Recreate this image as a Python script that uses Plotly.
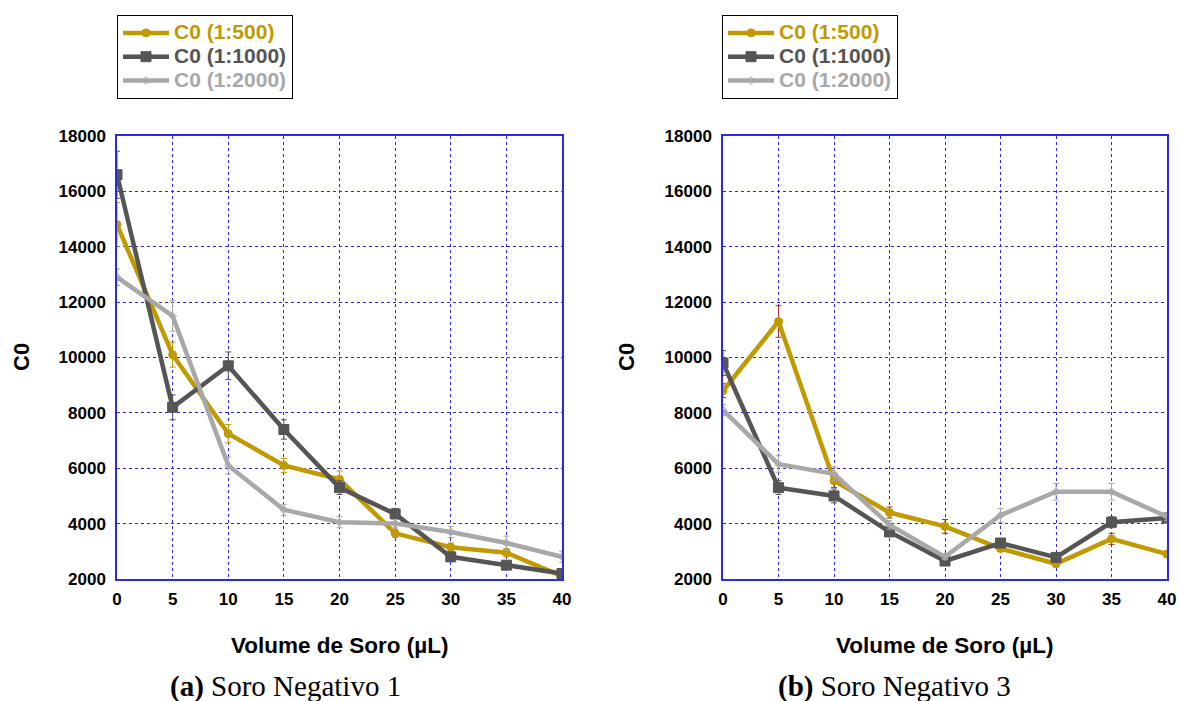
import plotly.graph_objects as go
from plotly.subplots import make_subplots

# ---------------- data ----------------
volume = [0, 5, 10, 15, 20, 25, 30, 35, 40]

# Soro Negativo 1 (left)
neg1_500 = [14800, 10100, 7250, 6100, 5600, 3650, 3150, 2950, 2100]
neg1_1000 = [16600, 8200, 9700, 7400, 5300, 4350, 2800, 2500, 2200]
neg1_2000 = [12900, 11500, 6100, 4500, 4050, 4000, 3700, 3300, 2800]
neg1_500_err = [800, 450, 330, 250, 300, 150, 150, 150, 100]
neg1_1000_err = [850, 450, 500, 350, 250, 200, 150, 100, 100]
neg1_2000_err = [300, 550, 300, 200, 200, 150, 200, 250, 200]

# Soro Negativo 3 (right)
neg3_500 = [8800, 11300, 5550, 4400, 3900, 3100, 2550, 3450, 2900]
neg3_1000 = [9800, 5300, 5000, 3700, 2650, 3300, 2780, 4050, 4200]
neg3_2000 = [8100, 6150, 5800, 3950, 2800, 4300, 5150, 5150, 4250]
neg3_500_err = [250, 570, 250, 200, 250, 100, 100, 200, 100]
neg3_1000_err = [450, 250, 250, 150, 100, 100, 100, 200, 150]
neg3_2000_err = [200, 300, 250, 150, 100, 250, 300, 300, 150]

series_names = ["C0 (1:500)", "C0 (1:1000)", "C0 (1:2000)"]
x_ticks = [0, 5, 10, 15, 20, 25, 30, 35, 40]
y_ticks = [2000, 4000, 6000, 8000, 10000, 12000, 14000, 16000, 18000]
x_title = "Volume de Soro (µL)"
y_title = "C0"
captions = ["<b>(a)</b> Soro Negativo 1", "<b>(b)</b> Soro Negativo 3"]

# ---------------- styles ----------------
W, H = 1179, 701
GOLD = "#C09A00"
DARK = "#555555"
LIGHT = "#A8A8A8"
colors = [GOLD, DARK, LIGHT]
symbols = ["circle", "square", "diamond-open"]
msizes = [8, 10, 6]
SANS = "Liberation Sans, Arial, sans-serif"
SERIF = "Liberation Serif, DejaVu Serif, serif"
BLUE = "#2a2ae6"

fig = make_subplots(rows=1, cols=2)

panels = [
    ([neg1_500, neg1_1000, neg1_2000], [neg1_500_err, neg1_1000_err, neg1_2000_err],
     [GOLD, DARK, LIGHT], "legend"),
    ([neg3_500, neg3_1000, neg3_2000], [neg3_500_err, neg3_1000_err, neg3_2000_err],
     ["#A03030", DARK, LIGHT], "legend2"),
]

for ci, (ys, errs, ecols, leg) in enumerate(panels):
    for si in range(3):
        fig.add_trace(
            go.Scatter(
                x=volume, y=ys[si],
                mode="lines+markers",
                name=(f'<span style="color:{colors[si]};font-size:21px">'
                      f'<b>{series_names[si]}</b></span>'),
                line=dict(color=colors[si], width=4.5),
                marker=dict(color=colors[si], symbol=symbols[si], size=msizes[si],
                            line=dict(color=colors[si], width=1)),
                error_y=dict(type="data", array=errs[si], visible=True,
                             color=ecols[si], thickness=1, width=3),
                legend=leg,
                showlegend=True,
            ),
            row=1, col=ci + 1,
        )

# domains (pixel-measured)
yd = [(H - 579) / H, (H - 136) / H]
fig.update_layout(
    xaxis=dict(domain=[117 / W, 562 / W]),
    xaxis2=dict(domain=[723 / W, 1167 / W]),
    yaxis=dict(domain=yd),
    yaxis2=dict(domain=yd),
)

axis_common = dict(
    showline=True, linecolor=BLUE, linewidth=1.5, mirror=True,
    showgrid=True, gridcolor=BLUE, griddash="dot", gridwidth=1,
    zeroline=False, ticks="", automargin=False,
    tickfont=dict(family=SANS, size=17, color="black", weight="bold"),
)
fig.update_xaxes(range=[0, 40], tickvals=x_ticks, tickformat="d", ticklabelstandoff=4, **axis_common)
fig.update_yaxes(range=[2000, 18000], tickvals=y_ticks, tickformat="d", ticklabelstandoff=6, **axis_common)

legend_common = dict(
    bgcolor="white", bordercolor="black", borderwidth=1,
    font=dict(family=SANS, size=16, color="black"),
    xanchor="left", yanchor="top", itemwidth=46, tracegroupgap=0,
    itemclick=False,
)
fig.update_layout(
    legend=dict(x=117 / W, y=1 - 15 / H, **legend_common),
    legend2=dict(x=722 / W, y=1 - 15 / H, **legend_common),
)

annotations = []
for cx in [(117 + 562) / 2, (723 + 1167) / 2]:
    annotations.append(dict(
        text=f"<b>{x_title}</b>", x=cx / W, y=1 - 645 / H, xref="paper", yref="paper",
        xanchor="center", yanchor="middle", showarrow=False,
        font=dict(family=SANS, size=22.5, color="black")))
for cx in [21, 626]:
    annotations.append(dict(
        text=f"<b>{y_title}</b>", x=cx / W, y=1 - 357 / H, xref="paper", yref="paper",
        xanchor="center", yanchor="middle", showarrow=False, textangle=-90,
        font=dict(family=SANS, size=22, color="black")))
for cx, cap in zip([285, 894], captions):
    annotations.append(dict(
        text=cap, x=cx / W, y=1 - 686 / H, xref="paper", yref="paper",
        xanchor="center", yanchor="middle", showarrow=False,
        font=dict(family=SERIF, size=29, color="black")))

fig.update_layout(
    width=W, height=H,
    margin=dict(l=0, r=0, t=0, b=0, autoexpand=False),
    paper_bgcolor="white", plot_bgcolor="white",
    annotations=annotations,
)

fig.write_html("out.html")
